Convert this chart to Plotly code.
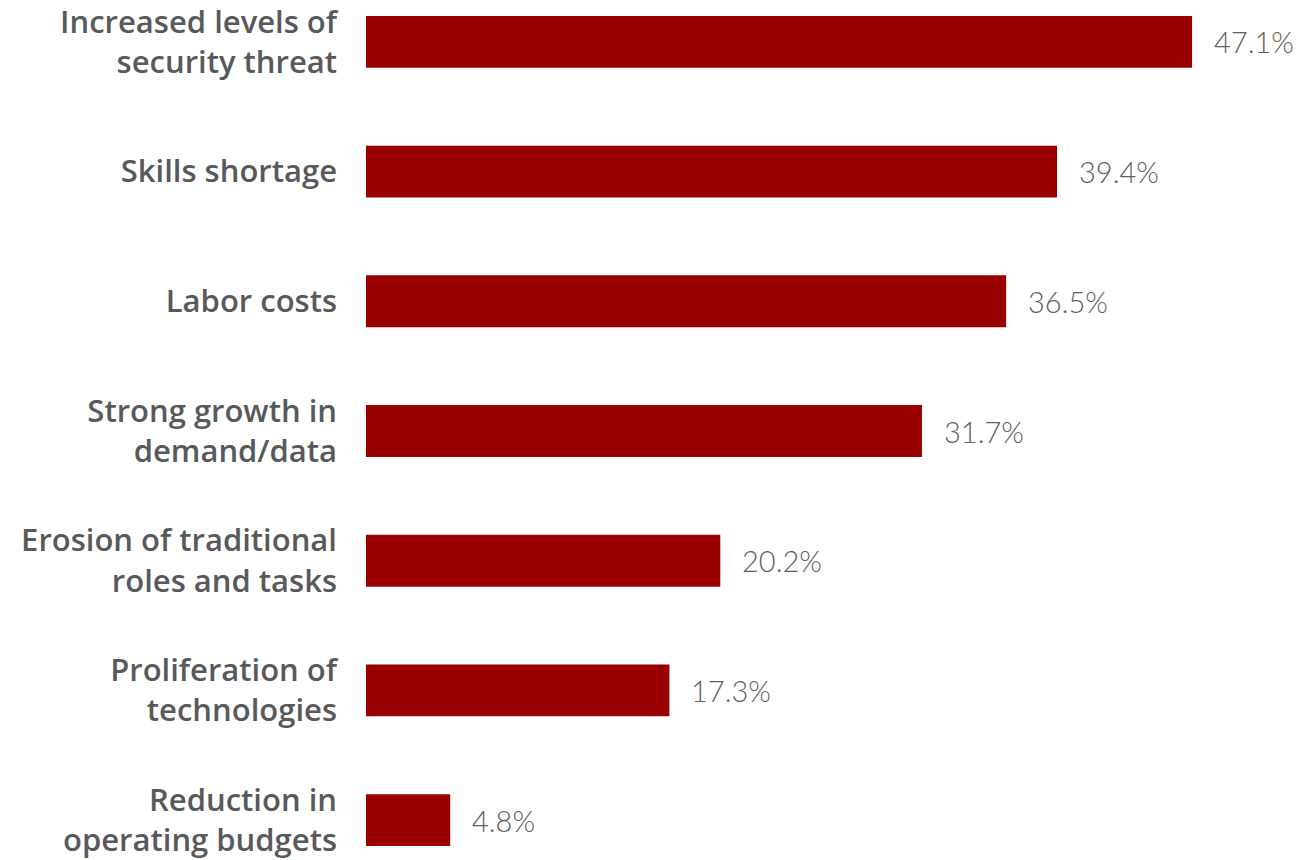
import plotly.graph_objects as go

# Survey drivers, top to bottom
categories = [
    "Increased levels of<br>security threat",
    "Skills shortage",
    "Labor costs",
    "Strong growth in<br>demand/data",
    "Erosion of traditional<br>roles and tasks",
    "Proliferation of<br>technologies",
    "Reduction in<br>operating budgets",
]
values = [47.1, 39.4, 36.5, 31.7, 20.2, 17.3, 4.8]
value_labels = [f"{v:.1f}%" for v in values]

BAR_COLOR = "#990000"
LABEL_COLOR = "#58595b"
VALUE_COLOR = "#5f6062"

fig = go.Figure(
    go.Bar(
        x=values,
        y=categories,
        orientation="h",
        marker=dict(color=BAR_COLOR, line=dict(width=0)),
        hoverinfo="skip",
    )
)

for cat, v, lab in zip(categories, values, value_labels):
    fig.add_annotation(
        x=v, y=cat, text=lab, showarrow=False,
        xanchor="left", yanchor="middle", xshift=20,
        font=dict(family="Lato", size=29, color=VALUE_COLOR, weight=300),
    )

fig.update_layout(
    width=1298, height=860,
    margin=dict(l=366, r=0, t=0, b=0),
    paper_bgcolor="white", plot_bgcolor="white",
    bargap=0.6,
    showlegend=False,
    xaxis=dict(range=[0, 53.14], visible=False, fixedrange=True),
    yaxis=dict(
        range=[6.292, -0.323],
        showgrid=False, zeroline=False, showline=False,
        ticks="", ticklabelstandoff=28,
        tickfont=dict(family="Open Sans", size=31, color=LABEL_COLOR, weight=600),
        fixedrange=True,
    ),
)

fig.write_html("out.html")
